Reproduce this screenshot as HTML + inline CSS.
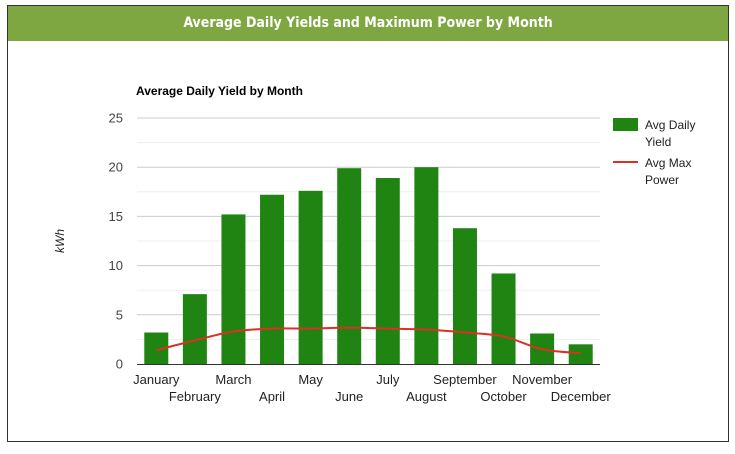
<!DOCTYPE html>
<html><head><meta charset="utf-8"><style>
body{margin:0;width:735px;height:454px;background:#fff;font-family:"Liberation Sans",sans-serif;overflow:hidden}
#panel{position:absolute;left:7px;top:5px;width:720px;height:435px;border:1px solid #333;box-sizing:content-box}
#hdr{position:absolute;left:0;top:0;width:720px;height:35px;background:#7ea742;color:#fff;font-weight:bold;font-size:14px;text-align:center;line-height:35px;font-family:"DejaVu Sans Condensed","DejaVu Sans",sans-serif}
svg{position:absolute;left:0;top:0}
</style></head><body>
<div id="panel"><div id="hdr">Average Daily Yields and Maximum Power by Month</div></div>
<svg id="c" width="735" height="454"></svg>
<script>
const months=["January","February","March","April","May","June","July","August","September","October","November","December"];
const yieldVals=[3.2,7.1,15.2,17.2,17.6,19.9,18.9,20.0,13.8,9.2,3.1,2.0];
const powerVals=[1.4,2.4,3.3,3.6,3.6,3.7,3.6,3.5,3.2,2.8,1.5,1.1];
const yTicks=[0,5,10,15,20,25];
const NS="http://www.w3.org/2000/svg",svg=document.getElementById('c');
const L=137,R=600,T=118,B=364,ymax=25;
const y=v=>B-(v/ymax)*(B-T);
const step=(R-L)/months.length;
const x=i=>L+step*(i+0.5);
function el(t,a,txt){const e=document.createElementNS(NS,t);for(const k in a)e.setAttribute(k,a[k]);if(txt!==undefined)e.textContent=txt;svg.appendChild(e);return e;}
const tt=el('text',{x:136,y:95,'font-size':12,'font-weight':'bold',fill:'#000'},'Average Daily Yield by Month');


for(let v=2.5;v<ymax;v+=5){const g=el('line',{x1:L,x2:R,y1:y(v),y2:y(v),stroke:'#eee'});

}
yTicks.forEach(v=>{if(v>0){const g=el('line',{x1:L,x2:R,y1:y(v),y2:y(v),stroke:'#ccc'});

}
const t=el('text',{x:123,y:y(v)+4.5,'font-size':13,'text-anchor':'end',fill:'#444'},v);

});
const yt=el('text',{x:64,y:241,'font-size':12,'font-style':'italic','text-anchor':'middle',fill:'#222',transform:'rotate(-90 64 241)'},'kWh');


const bw=24;
yieldVals.forEach((v,i)=>{const b=el('rect',{x:x(i)-bw/2,y:y(v),width:bw,height:B-y(v),fill:'#1f8412'});

});
const ax=el('line',{x1:L,x2:R,y1:B+0.5,y2:B+0.5,stroke:'#333'});


months.forEach((m,i)=>{const t=el('text',{x:x(i),y:i%2?401:384,'font-size':13,'text-anchor':'middle',fill:'#222'},m);

});
const P=powerVals.map((v,i)=>[x(i),y(v)]);
let d='M'+P[0][0]+','+P[0][1];
for(let i=0;i<P.length-1;i++){const p0=P[Math.max(0,i-1)],p1=P[i],p2=P[i+1],p3=P[Math.min(P.length-1,i+2)];
d+=` C${p1[0]+(p2[0]-p0[0])/6},${p1[1]+(p2[1]-p0[1])/6} ${p2[0]-(p3[0]-p1[0])/6},${p2[1]-(p3[1]-p1[1])/6} ${p2[0]},${p2[1]}`;}
const ln=el('path',{d:d,fill:'none',stroke:'#dc3025','stroke-width':2});


const sw=el('rect',{x:613,y:118,width:25,height:13,fill:'#1f8412'});


const l1=el('text',{x:645,y:129,'font-size':12,fill:'#222'},'Avg Daily');


const l1b=el('text',{x:645,y:146,'font-size':12,fill:'#222'},'Yield');


const sl=el('line',{x1:613,x2:638,y1:162,y2:162,stroke:'#dc3025','stroke-width':2});


const l2=el('text',{x:645,y:167,'font-size':12,fill:'#222'},'Avg Max');


const l2b=el('text',{x:645,y:184,'font-size':12,fill:'#222'},'Power');


</script>
</body></html>
